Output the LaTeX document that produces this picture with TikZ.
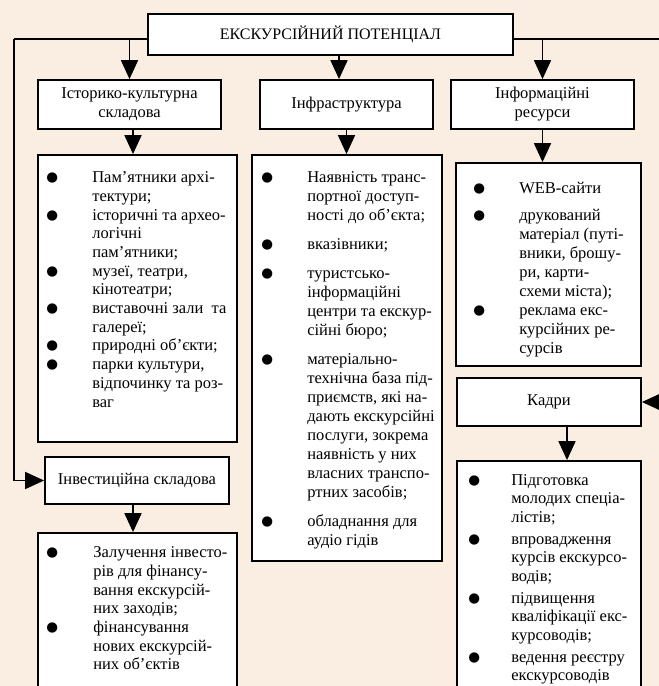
\documentclass[tikz,border=0pt]{standalone}
\usepackage{fontspec}
\setmainfont{Liberation Serif}
\newfontfamily\symfont{DejaVu Sans}
\usetikzlibrary{arrows.meta,calc}
\definecolor{paper}{RGB}{250,238,226}
\newcommand{\blt}{\makebox[0pt]{\raisebox{1pt}{\symfont\fontsize{13.5}{13}\selectfont ●}}}

\begin{document}
\begin{tikzpicture}[x=1pt,y=-1pt,
  box/.style={draw,fill=white,line width=1.8pt,inner sep=0pt,align=center,
    font=\fontsize{16.5}{19}\selectfont},
  lst/.style={anchor=base west,inner sep=0pt,align=left,
    font=\fontsize{16.5}{18.7}\selectfont},
  arr/.style={-{Triangle[length=19pt,width=17pt]},line width=1.8pt},
  bus/.style={line width=1.8pt}]

\useasboundingbox (0,0) rectangle (659,686);
\fill[paper] (0,0) rectangle (659,686);

% boxes
\node[box,minimum width=365pt,minimum height=41pt,font=\fontsize{16}{19}\selectfont] (top) at (330.5,34.5) {ЕКСКУРСІЙНИЙ ПОТЕНЦІАЛ};
\node[box,minimum width=183pt,minimum height=49pt] (hist) at (129.5,104.5) {Історико-культурна\\складова};
\node[box,minimum width=173pt,minimum height=49pt] (infra) at (346.5,104.5) {Інфраструктура};
\node[box,minimum width=183pt,minimum height=49pt] (info) at (542.5,104.5) {Інформаційні\\ресурси};
\node[box,minimum width=184pt,minimum height=48pt] (staff) at (549,402) {Кадри};
\node[box,minimum width=184pt,minimum height=47pt] (invest) at (137,480.5) {Інвестиційна складова};

\node[box,minimum width=199pt,minimum height=287pt] (histlist) at (137.5,298.5) {};
\node[box,minimum width=190pt,minimum height=406pt] (infralist) at (347,358) {};
\node[box,minimum width=185pt,minimum height=203pt] (infolist) at (548.5,264.5) {};
\node[box,minimum width=184pt,minimum height=229pt] (stafflist) at (549,575.5) {};
\node[box,minimum width=199pt,minimum height=157pt] (investlist) at (137.5,611.5) {};

% lists
\node[lst] (histtext) at ($(histlist.north west)+(0,28.5)$) {%
\begin{tabular}[t]{@{\hspace{15pt}}l@{\hspace{40pt}}l@{}}
\blt & Пам’ятники архі-\\
     & тектури;\\
\blt & історичні та архео-\\
     & логічні\\
     & пам’ятники;\\
\blt & музеї, театри,\\
     & кінотеатри;\\
\blt & виставочні зали~ та\\
     & галереї;\\
\blt & природні об’єкти;\\
\blt & парки культури,\\
     & відпочинку та роз-\\
     & ваг
\end{tabular}};

\node[lst,font=\fontsize{16.5}{19}\selectfont] (infratext) at ($(infralist.north west)+(0,28.5)$) {%
\begin{tabular}[t]{@{\hspace{16pt}}l@{\hspace{40pt}}l@{}}
\blt & Наявність транс-\\
     & портної доступ-\\
     & ності до об’єкта;\\[10pt]
\blt & вказівники;\\[10pt]
\blt & туристсько-\\
     & інформаційні\\
     & центри та екскур-\\
     & сійні бюро;\\[10pt]
\blt & матеріально-\\
     & технічна база під-\\
     & приємств, які на-\\
     & дають екскурсійні\\
     & послуги, зокрема\\
     & наявність у них\\
     & власних транспо-\\
     & ртних засобів;\\[10pt]
\blt & обладнання для\\
     & аудіо гідів
\end{tabular}};

\node[lst,font=\fontsize{16.5}{19}\selectfont] (infotext) at ($(infolist.north west)+(0,31)$) {%
\begin{tabular}[t]{@{\hspace{24pt}}l@{\hspace{40pt}}l@{}}
\blt & WEB-сайти\\[8pt]
\blt & друкований\\
     & матеріал (путі-\\
     & вники, брошу-\\
     & ри, карти-\\
     & схеми міста);\\
\blt & реклама екс-\\
     & курсійних ре-\\
     & сурсів
\end{tabular}};

\node[lst,font=\fontsize{16.5}{18.5}\selectfont] (stafftext) at ($(stafflist.north west)+(0,25)$) {%
\begin{tabular}[t]{@{\hspace{18pt}}l@{\hspace{37pt}}l@{}}
\blt & Підготовка\\
     & молодих спеціа-\\
     & лістів;\\[3.5pt]
\blt & впровадження\\
     & курсів екскурсо-\\
     & водів;\\[3.5pt]
\blt & підвищення\\
     & кваліфікації екс-\\
     & курсоводів;\\[3.5pt]
\blt & ведення реєстру\\
     & екскурсоводів
\end{tabular}};

\node[lst] (investtext) at ($(investlist.north west)+(0,25.5)$) {%
\begin{tabular}[t]{@{\hspace{15pt}}l@{\hspace{41pt}}l@{}}
\blt & Залучення інвесто-\\
     & рів для фінансу-\\
     & вання екскурсій-\\
     & них заходів;\\
\blt & фінансування\\
     & нових екскурсій-\\
     & них об’єктів
\end{tabular}};

% connectors
\coordinate (lt) at (14,39);
\coordinate (rt) at (661,39);
\coordinate (bx) at (133,0);
\coordinate (mx) at (339,0);
\coordinate (kx) at (567,0);

\draw[bus] (top.west |- lt) -- (lt);
\draw[arr] (lt) |- (invest.west);
\draw[bus] (top.east |- rt) -- (rt);
\draw[arr] (rt) |- (staff.east);

\draw[arr] (hist.north |- lt) -- (hist.north);
\draw[arr] (mx |- top.south) -- (mx |- infra.north);
\draw[arr] (info.north |- rt) -- (info.north);

\draw[arr] (bx |- hist.south) -- (bx |- histlist.north);
\draw[arr] (infra.south) -- (infralist.north -| infra.south);
\draw[arr] (info.south) -- (info.south |- infolist.north);
\draw[arr] (kx |- staff.south) -- (kx |- stafflist.north);
\draw[arr] (bx |- invest.south) -- (bx |- investlist.north);

\end{tikzpicture}
\end{document}
